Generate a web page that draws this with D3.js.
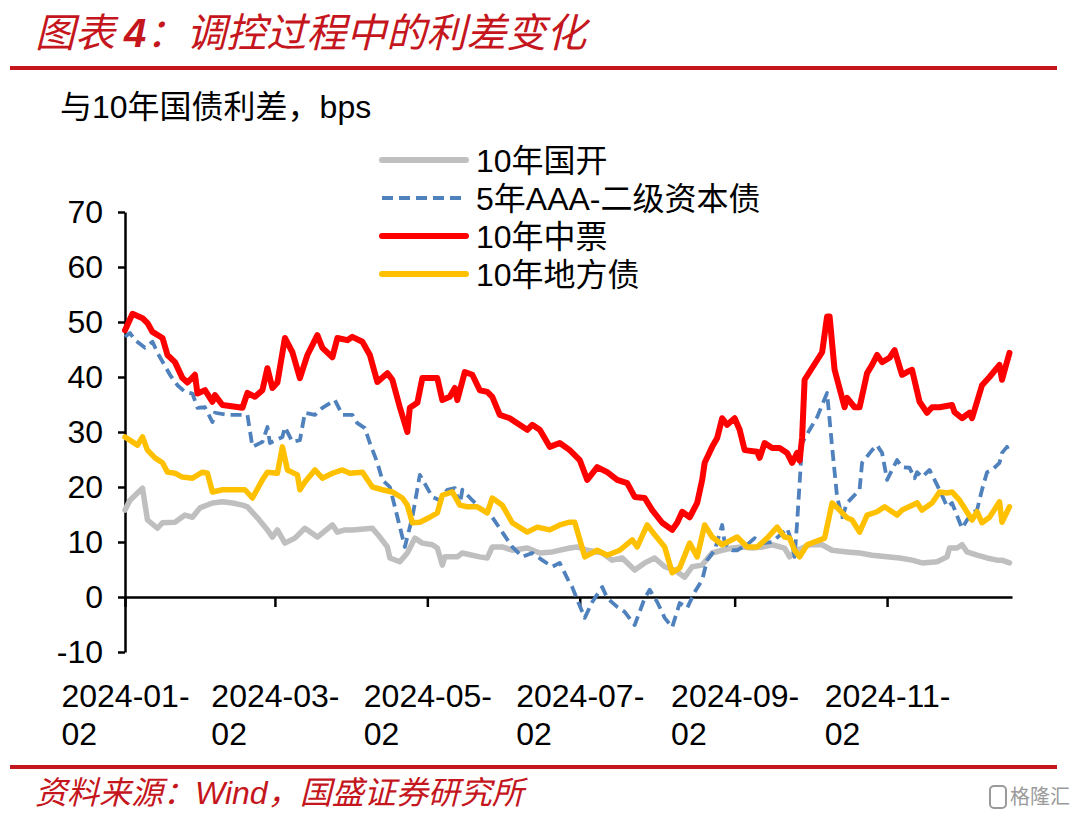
<!DOCTYPE html>
<html>
<head>
<meta charset="utf-8">
<script src="https://cdn.jsdelivr.net/npm/d3@7"></script>
<style>
  html, body { margin: 0; padding: 0; background: #fff; }
  svg { display: block; }
</style>
</head>
<body>
<div id="chart"></div>
<script>
// 数据：日期为 2024 年的 "MM-DD"，数值单位 bps
const YEAR = 2024;
const yTicks = [-10, 0, 10, 20, 30, 40, 50, 60, 70];
const xTickDates = ["01-02", "03-02", "05-02", "07-02", "09-02", "11-02"];
const xDomain = ["01-02", "12-22"];
const seriesNames = ["10年国开", "5年AAA-二级资本债", "10年中票", "10年地方债"];

const cdbData = [
  ["01-02", 15.8], ["01-04", 17.6], ["01-07", 18.9], ["01-09", 19.8], ["01-11", 14], ["01-15", 12.5],
  ["01-17", 13.5], ["01-22", 13.6], ["01-26", 14.9], ["01-29", 14.5], ["02-01", 16.2], ["02-06", 17.1],
  ["02-10", 17.3], ["02-14", 17.1], ["02-18", 16.7], ["02-20", 16.4], ["02-24", 14.4], ["02-28", 12.2],
  ["03-01", 10.9], ["03-03", 12.2], ["03-06", 9.8], ["03-10", 10.7], ["03-14", 12.5], ["03-19", 10.9],
  ["03-25", 13.1], ["03-27", 11.8], ["03-30", 12.2], ["04-02", 12.2], ["04-10", 12.5], ["04-13", 10.9],
  ["04-16", 9.1], ["04-17", 7.1], ["04-21", 6.4], ["04-24", 8], ["04-27", 10.7], ["04-30", 9.8],
  ["05-04", 9.5], ["05-06", 8.9], ["05-08", 5.8], ["05-09", 7.3], ["05-14", 7.3], ["05-16", 8],
  ["05-20", 7.6], ["05-23", 7.3], ["05-26", 7.1], ["05-28", 9.1], ["06-01", 9.1], ["06-05", 8.5],
  ["06-11", 8.9], ["06-16", 8], ["06-21", 8.2], ["06-28", 8.9], ["07-01", 9.1], ["07-05", 8.5],
  ["07-11", 8], ["07-15", 6.7], ["07-19", 7.1], ["07-24", 4.9], ["07-28", 6.2], ["08-01", 7.1],
  ["08-05", 5.5], ["08-09", 4.9], ["08-13", 3.6], ["08-16", 5.5], ["08-20", 5.8], ["08-24", 8],
  ["08-28", 8.5], ["09-01", 8.9], ["09-05", 9.1], ["09-09", 8.9], ["09-13", 9.1], ["09-17", 9.5],
  ["09-22", 8.9], ["09-24", 7.3], ["09-27", 8.5], ["10-02", 9.5], ["10-07", 9.5], ["10-11", 8.5],
  ["10-17", 8.2], ["10-22", 8], ["10-27", 7.6], ["11-02", 7.3], ["11-07", 7.1], ["11-12", 6.7],
  ["11-16", 6.2], ["11-22", 6.4], ["11-26", 7.3], ["11-27", 8.9], ["11-30", 8.9], ["12-02", 9.5],
  ["12-04", 8.2], ["12-08", 7.6], ["12-12", 7.1], ["12-16", 6.7], ["12-18", 6.7], ["12-21", 6.2]
];

const ccbData = [
  ["01-02", 47.3], ["01-04", 48], ["01-06", 46.7], ["01-10", 45.3], ["01-13", 46.4], ["01-15", 44.4],
  ["01-20", 40.4], ["01-23", 38.5], ["01-26", 37.3], ["01-29", 37], ["01-31", 34.4], ["02-03", 34.5],
  ["02-06", 31.8], ["02-07", 33.5], ["02-12", 33.1], ["02-20", 33.1], ["02-22", 27.3], ["02-26", 28.2],
  ["02-28", 30.9], ["02-29", 28], ["03-05", 29.1], ["03-06", 30.9], ["03-09", 28.2], ["03-12", 28.5],
  ["03-14", 33.5], ["03-18", 33.1], ["03-21", 34.4], ["03-26", 35.8], ["03-29", 33.1], ["04-02", 33.1],
  ["04-04", 31.6], ["04-07", 30.7], ["04-09", 28], ["04-12", 24.4], ["04-14", 21.3], ["04-17", 20],
  ["04-19", 16.4], ["04-23", 9.1], ["04-26", 14.5], ["04-29", 22.2], ["05-04", 18.2], ["05-07", 17.6],
  ["05-10", 19.5], ["05-13", 19.8], ["05-15", 16.7], ["05-16", 19.5], ["05-20", 17.6], ["05-24", 15.8],
  ["05-28", 14.5], ["06-01", 11.8], ["06-05", 9.1], ["06-09", 7.3], ["06-13", 8], ["06-17", 6.7],
  ["06-21", 5.5], ["06-24", 6.2], ["06-28", 2.5], ["06-29", 1.8], ["07-01", -0.5], ["07-04", -3.8],
  ["07-07", -0.9], ["07-11", 1.8], ["07-13", -0.2], ["07-17", -1.8], ["07-20", -2.7], ["07-24", -5.1],
  ["07-28", -0.2], ["07-30", 1.3], ["08-02", -0.9], ["08-05", -3.8], ["08-08", -5.5], ["08-11", -1.1],
  ["08-14", -2], ["08-17", 0.9], ["08-20", 3.1], ["08-22", 6.7], ["08-25", 8.5], ["08-28", 13.1],
  ["08-29", 9.8], ["09-01", 8.5], ["09-03", 8.5], ["09-07", 9.5], ["09-10", 10.7], ["09-13", 9.8],
  ["09-17", 10], ["09-21", 11.6], ["09-23", 12.5], ["09-25", 9.8], ["09-26", 7.3], ["09-27", 13.5],
  ["09-29", 28], ["10-02", 30.4], ["10-05", 32.7], ["10-09", 37.1], ["10-11", 27.3], ["10-13", 18.2],
  ["10-15", 14.5], ["10-17", 17.1], ["10-22", 19.5], ["10-23", 24.4], ["10-27", 26.7], ["10-29", 27.6],
  ["10-31", 26.2], ["11-02", 21.3], ["11-06", 24.9], ["11-08", 23.6], ["11-11", 23.5], ["11-13", 21.6],
  ["11-14", 22.7], ["11-16", 21.8], ["11-19", 23.1], ["11-22", 20.4], ["11-24", 18.5], ["11-26", 16.4],
  ["11-28", 17.1], ["12-02", 12.5], ["12-04", 14], ["12-06", 15.3], ["12-08", 15.8], ["12-10", 19.5],
  ["12-12", 22.7], ["12-14", 23.1], ["12-17", 24.4], ["12-18", 26.2], ["12-20", 27.3], ["12-21", 26.2]
];

const mtnData = [
  ["01-02", 48.5], ["01-05", 51.5], ["01-09", 50.7], ["01-11", 49.8], ["01-13", 48.2], ["01-17", 47.1],
  ["01-19", 44], ["01-22", 42.7], ["01-25", 39.8], ["01-27", 39], ["01-30", 40.4], ["01-31", 37],
  ["02-03", 37.6], ["02-06", 35.5], ["02-07", 36.7], ["02-10", 34.9], ["02-18", 34.4], ["02-20", 37.1],
  ["02-23", 36.4], ["02-26", 37.6], ["02-28", 41.6], ["03-01", 38], ["03-03", 39], ["03-06", 47.1],
  ["03-09", 44.5], ["03-12", 39.8], ["03-15", 44], ["03-19", 47.6], ["03-21", 45.3], ["03-25", 43.6],
  ["03-27", 47.1], ["03-31", 46.7], ["04-02", 47.3], ["04-06", 46.4], ["04-09", 44], ["04-12", 39.1],
  ["04-16", 40.7], ["04-18", 39.5], ["04-21", 34.5], ["04-24", 30], ["04-25", 34.4], ["04-28", 35.3],
  ["04-30", 39.8], ["05-06", 39.8], ["05-08", 35.8], ["05-11", 36.4], ["05-13", 38], ["05-14", 35.8],
  ["05-17", 40.9], ["05-20", 40.4], ["05-23", 37.6], ["05-26", 37.3], ["05-28", 36.4], ["05-31", 33.1],
  ["06-04", 32.5], ["06-07", 31.6], ["06-11", 30.4], ["06-13", 31.3], ["06-16", 30.4], ["06-20", 27.3],
  ["06-24", 28], ["06-28", 26.7], ["07-02", 24.9], ["07-05", 21.3], ["07-09", 23.6], ["07-13", 22.7],
  ["07-17", 21.3], ["07-21", 20.7], ["07-24", 18.2], ["07-28", 18], ["07-31", 15.8], ["08-04", 13.5],
  ["08-08", 12.2], ["08-10", 13.5], ["08-12", 15.5], ["08-15", 14.5], ["08-18", 17.1], ["08-20", 21.3],
  ["08-21", 24.4], ["08-24", 27.3], ["08-26", 28.9], ["08-28", 32.5], ["08-30", 31.3], ["09-02", 32.5],
  ["09-04", 30.4], ["09-06", 26.7], ["09-11", 26.4], ["09-12", 25.3], ["09-14", 28], ["09-17", 27.1],
  ["09-20", 27.1], ["09-23", 26.2], ["09-25", 24.4], ["09-27", 26.2], ["09-28", 24.8], ["09-29", 29],
  ["09-30", 39.5], ["10-07", 44.5], ["10-09", 51], ["10-10", 51], ["10-12", 41.3], ["10-16", 34.5],
  ["10-17", 36.2], ["10-20", 34.5], ["10-22", 34.5], ["10-25", 40.7], ["10-27", 42.2], ["10-29", 44],
  ["10-31", 42.7], ["11-03", 43.5], ["11-05", 44.9], ["11-08", 40.4], ["11-10", 40.9], ["11-12", 41.3],
  ["11-15", 35.5], ["11-18", 33.5], ["11-20", 34.5], ["11-23", 34.5], ["11-28", 34.9], ["11-29", 33.6],
  ["12-02", 32.5], ["12-05", 33.5], ["12-06", 32.5], ["12-10", 38.5], ["12-13", 40], ["12-17", 42.2],
  ["12-18", 39.5], ["12-21", 44.4]
];

const lgbData = [
  ["01-02", 29.1], ["01-05", 28.2], ["01-07", 27.6], ["01-09", 29.1], ["01-11", 26.7], ["01-14", 25.3],
  ["01-17", 24.4], ["01-19", 22.7], ["01-22", 22.5], ["01-25", 21.8], ["01-29", 21.6], ["02-02", 22.7],
  ["02-04", 22.5], ["02-06", 19.1], ["02-10", 19.5], ["02-19", 19.5], ["02-22", 18], ["02-26", 21.3],
  ["02-28", 22.7], ["03-03", 22.5], ["03-05", 27.3], ["03-07", 23.1], ["03-11", 22.2], ["03-12", 19.5],
  ["03-14", 20.9], ["03-18", 23.1], ["03-21", 21.6], ["03-25", 22.5], ["03-29", 23.1], ["04-01", 22.5],
  ["04-06", 22.7], ["04-10", 20], ["04-14", 19.5], ["04-18", 19.1], ["04-22", 18], ["04-24", 16.7],
  ["04-26", 13.5], ["04-29", 13.6], ["05-03", 14.5], ["05-06", 15.3], ["05-08", 18.5], ["05-12", 19.1],
  ["05-15", 16.7], ["05-18", 16.4], ["05-22", 16.4], ["05-26", 15.3], ["05-28", 18], ["06-01", 16.7],
  ["06-05", 13.5], ["06-11", 11.8], ["06-15", 12.7], ["06-20", 12.2], ["06-24", 13.1], ["06-28", 13.6],
  ["06-30", 13.6], ["07-04", 7.3], ["07-09", 8.5], ["07-13", 7.6], ["07-18", 8.5], ["07-23", 10.4],
  ["07-25", 9.1], ["07-29", 13.1], ["08-01", 11.3], ["08-05", 9.1], ["08-08", 4.4], ["08-11", 5.3],
  ["08-15", 9.8], ["08-18", 7.3], ["08-21", 13.1], ["08-24", 10.9], ["08-28", 9.5], ["09-03", 10.9],
  ["09-07", 9.1], ["09-11", 9.1], ["09-15", 10.7], ["09-19", 12.7], ["09-22", 10.9], ["09-24", 10.7],
  ["09-26", 8.5], ["09-28", 7.3], ["10-01", 9.5], ["10-08", 10.7], ["10-11", 17.1], ["10-14", 15.8],
  ["10-17", 14.4], ["10-19", 14], ["10-22", 11.8], ["10-25", 14.9], ["10-29", 15.5], ["11-01", 16.4],
  ["11-06", 14.9], ["11-08", 15.8], ["11-14", 17.1], ["11-16", 15.8], ["11-20", 17.1], ["11-23", 19.1],
  ["11-26", 18.9], ["11-28", 19.1], ["12-01", 17.6], ["12-06", 14], ["12-08", 15.5], ["12-10", 13.5],
  ["12-13", 14.5], ["12-17", 17.3], ["12-18", 13.6], ["12-21", 16.4]
];

const width = 1072, height = 817;
const FONT = '"Liberation Sans", Arial, "Noto Sans CJK SC", sans-serif';
const CJK = '"Noto Sans CJK SC", "Liberation Sans", sans-serif';
const RULE = "#C4161C";
const FS = 32;

const parse = d3.timeParse("%Y-%m-%d");
const toDate = s => parse(`${YEAR}-${s}`);
const toPoints = arr => arr.map(([d, v]) => ({date: toDate(d), value: v}));

const series = [
  {name: seriesNames[0], data: toPoints(cdbData), color: "#BFBFBF", width: 5.5},
  {name: seriesNames[1], data: toPoints(ccbData), color: "#4F81BD", width: 3.8, dash: "11,6"},
  {name: seriesNames[2], data: toPoints(mtnData), color: "#FF0000", width: 6},
  {name: seriesNames[3], data: toPoints(lgbData), color: "#FFC000", width: 5.5}
];

const x = d3.scaleTime().domain(xDomain.map(toDate)).range([125, 1012]);
const y = d3.scaleLinear().domain([-10, 70]).range([652, 212]);

const svg = d3.select("#chart").append("svg")
  .attr("width", width)
  .attr("height", height)
  .attr("viewBox", [0, 0, width, height]);

// 标题与分隔线
svg.append("text")
  .attr("x", 35).attr("y", 47)
  .attr("fill", RULE)
  .style("font", `italic 40px ${CJK}`)
  .call(t => t.append("tspan").text("图表 "))
  .call(t => t.append("tspan").attr("font-weight", "bold").style("font-family", FONT).text("4"))
  .call(t => t.append("tspan").text("：调控过程中的利差变化"));

svg.append("line")
  .attr("x1", 10).attr("x2", 1057).attr("y1", 68).attr("y2", 68)
  .attr("stroke", RULE).attr("stroke-width", 4);

svg.append("text")
  .attr("x", 60).attr("y", 118)
  .style("font", `${FS}px ${FONT}`)
  .text("与10年国债利差，bps");

// 坐标轴
const yAxis = svg.append("g")
  .attr("transform", `translate(${x.range()[0]},0)`)
  .call(d3.axisLeft(y).tickValues(yTicks).tickSize(7).tickSizeOuter(0).tickPadding(15)
    .tickFormat(d => String(d)));
yAxis.select(".domain").attr("stroke", "#000").attr("stroke-width", 2.5);
yAxis.selectAll(".tick line").attr("stroke", "#000").attr("stroke-width", 2.5);
yAxis.selectAll(".tick text")
  .style("font", `${FS}px ${FONT}`)
  .attr("fill", "#000");

const xAxis = svg.append("g")
  .attr("transform", `translate(0,${y(0)})`)
  .call(d3.axisBottom(x).tickValues(xTickDates.map(toDate)).tickSize(10).tickSizeOuter(0).tickFormat(() => ""));
xAxis.select(".domain").attr("stroke", "#000").attr("stroke-width", 2.5);
xAxis.selectAll(".tick line").attr("stroke", "#000").attr("stroke-width", 2.5);
xAxis.selectAll(".tick text").remove();

const fmtTop = d3.timeFormat("%Y-%m-");
const fmtBottom = d3.timeFormat("%d");
xAxis.selectAll(".tick").each(function(d) {
  const g = d3.select(this);
  const t = g.append("text")
    .attr("fill", "#000")
    .attr("text-anchor", "start")
    .style("font", `${FS}px ${FONT}`);
  const l1 = t.append("tspan").attr("y", 110).text(fmtTop(d));
  const w = l1.node().getComputedTextLength();
  l1.attr("x", -w / 2);
  t.append("tspan").attr("x", -w / 2).attr("y", 148).text(fmtBottom(d));
});

// 折线
const line = d3.line()
  .x(d => x(d.date))
  .y(d => y(d.value));

svg.append("g")
  .selectAll("path")
  .data(series)
  .join("path")
  .attr("fill", "none")
  .attr("stroke", d => d.color)
  .attr("stroke-width", d => d.width)
  .attr("stroke-dasharray", d => d.dash || null)
  .attr("stroke-linejoin", "round")
  .attr("stroke-linecap", d => d.dash ? "butt" : "round")
  .attr("d", d => line(d.data));

// 图例
const legend = svg.append("g")
  .selectAll("g")
  .data(series)
  .join("g")
  .attr("transform", (d, i) => `translate(382,${160 + i * 38})`);

legend.append("line")
  .attr("x1", 0).attr("x2", 84)
  .attr("stroke", d => d.color)
  .attr("stroke-width", d => d.dash ? 4 : 6)
  .attr("stroke-dasharray", d => d.dash || null)
  .attr("stroke-linecap", d => d.dash ? "butt" : "round");

legend.append("text")
  .attr("x", 94).attr("dy", "0.36em")
  .style("font", `${FS}px ${FONT}`)
  .text(d => d.name);

// 底部来源
svg.append("line")
  .attr("x1", 10).attr("x2", 1057).attr("y1", 767).attr("y2", 767)
  .attr("stroke", RULE).attr("stroke-width", 4);

svg.append("text")
  .attr("x", 35).attr("y", 804)
  .attr("fill", RULE)
  .style("font", `italic ${FS}px ${CJK}`)
  .call(t => t.append("tspan").text("资料来源："))
  .call(t => t.append("tspan").style("font-family", FONT).text("Wind"))
  .call(t => t.append("tspan").text("，国盛证券研究所"));

// 水印
const wm = svg.append("g").attr("transform", "translate(990,797)");
wm.append("rect")
  .attr("x", 0).attr("y", -11).attr("width", 16).attr("height", 22).attr("rx", 4)
  .attr("fill", "none").attr("stroke", "#9a9a9a").attr("stroke-width", 2);
wm.append("text")
  .attr("x", 20).attr("dy", "0.36em")
  .attr("fill", "#9a9a9a")
  .style("font", `20px ${CJK}`)
  .text("格隆汇");
</script>
</body>
</html>
